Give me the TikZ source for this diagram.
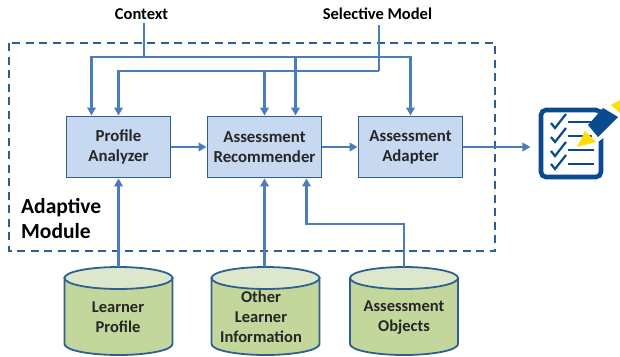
\documentclass[tikz,border=0pt]{standalone}
\usepackage{fontspec}
\setmainfont{Carlito}
\usetikzlibrary{arrows.meta,calc}
\definecolor{arrowc}{HTML}{4A7EBB}
\definecolor{edgec}{HTML}{2F5F8F}
\definecolor{boxf}{HTML}{C6D9F1}
\definecolor{cylf}{HTML}{C3D69B}
\definecolor{cylt}{HTML}{DDE7CB}
\definecolor{navy}{HTML}{0B4A8F}
\definecolor{yel}{HTML}{FFDD00}
\tikzset{
  x=1pt,y=-1pt,
  proc/.style={draw=edgec,fill=boxf,line width=1.9pt,minimum width=104pt,minimum height=61pt,inner sep=0pt,align=center,font=\fontsize{16.8}{20}\selectfont\bfseries\color{black!85}},
  dbbody/.style={draw=edgec,fill=cylf,line width=1.8pt},
  dbtop/.style={draw=edgec,fill=cylt,line width=1.8pt},
  dbtext/.style={align=center,inner sep=0pt,font=\fontsize{16.5}{20}\selectfont\bfseries\color{black!85}},
  wire/.style={draw=arrowc,line width=2.4pt},
  flow/.style={wire,-{Triangle[length=8pt,width=8.5pt]}},
  frame/.style={draw=edgec,line width=1.7pt,dash pattern=on 8pt off 5.5pt},
  lbl/.style={inner sep=0pt,font=\fontsize{16.5}{18}\selectfont\bfseries,text=black},
  iconline/.style={draw=navy,line width=1.9pt},
  iconcheck/.style={draw=navy,line width=2.2pt,line join=miter}
}
\newcommand{\dbshape}[2]{% centre x, half width
  \draw[dbbody] ({#1-#2},278) -- ({#1-#2},344) arc[start angle=180,end angle=360,x radius=#2,y radius=-11] -- ({#1+#2},278) -- cycle;
  \draw[dbtop] (#1,278) ellipse[x radius=#2,y radius=11];
}
\begin{document}
\begin{tikzpicture}
\useasboundingbox (0,0) rectangle (620,356);
\draw[frame] (9,43) rectangle (495,251);
\node[lbl,align=left,font=\fontsize{21.5}{25}\selectfont\bfseries,anchor=west] (am) at (21,219) {Adaptive\\Module};
\node[lbl] (ctx) at (141.5,14) {Context};
\node[lbl] (sel) at (377.5,14) {Selective Model};
\node[proc] (pa) at (118.5,147) {Profile\\Analyzer};
\node[proc,minimum width=114pt] (ar) at (264.5,147) {Assessment\\Recommender};
\node[proc] (ad) at (410.5,147) {Assessment\\Adapter};
\dbshape{118.5}{54}
\dbshape{265.5}{54}
\dbshape{404}{54}
\coordinate (lp) at (118.5,267);
\coordinate (ol) at (264.5,267);
\coordinate (ao) at (404,267);
\node[dbtext] (lpt) at (118,317) {Learner\\Profile};
\node[dbtext] (olt) at (261,317) {Other\\Learner\\Information};
\node[dbtext] (aot) at (404,318) {Assessment\\Objects};
\coordinate (cb) at (144,57);
\coordinate (sb) at (379,71);
\coordinate (aoj) at (404,224);
% Context bus
\draw[wire] (ctx.south -| cb) ++(0,3) -- (cb);
\draw[flow] (cb) -| ($(pa.north)+(-27,0)$);
\draw[flow] (cb) -| ($(ar.north)+(31,0)$);
\draw[flow] (cb) -| (ad.north);
% Selective model bus
\draw[wire] (sel.south -| sb) ++(0,5) -- (sb);
\draw[flow] (sb) -| (pa.north);
\draw[flow] (sb) -| (ar.north);
% horizontal flow
\draw[flow] (pa.east) -- (ar.west);
\draw[flow] (ar.east) -- (ad.west);
\coordinate (out) at ($(ad.east)+(67,0)$);
\draw[flow] (ad.east) -- (out);
% databases
\draw[flow] (lp) -- (pa.south);
\draw[flow] (ol) -- (ar.south);
\draw[flow] (ao) -- (aoj) -| ($(ar.south)+(42,0)$);
% checklist icon
\draw[navy,line width=4.6pt,rounded corners=5pt,fill=white] (541,110) rectangle (601,177);
\foreach \yy in {0,14,28,41}{
  \draw[iconcheck] (551,{123+\yy}) -- (555,{128+\yy}) -- (566,{114+\yy});
}
\draw[iconline] (568,122) -- (592,122);
\draw[iconline] (568,136) -- (592,136);
\draw[iconline] (568,150) -- (594,150);
\draw[iconline] (568,164) -- (594,164);
\fill[white] (585,128) -- (604,107.5) -- (620,107.5) -- (620,125) -- (598,142) -- cycle;
\fill[yel] (577,147) -- (585,131) -- (596,142) -- cycle;
\fill[navy] (588,125) -- (603,108) -- (618,117) -- (598,137) -- cycle;
\fill[yel] (611,105) -- (620,100) -- (620,113) -- cycle;
\end{tikzpicture}
\end{document}
